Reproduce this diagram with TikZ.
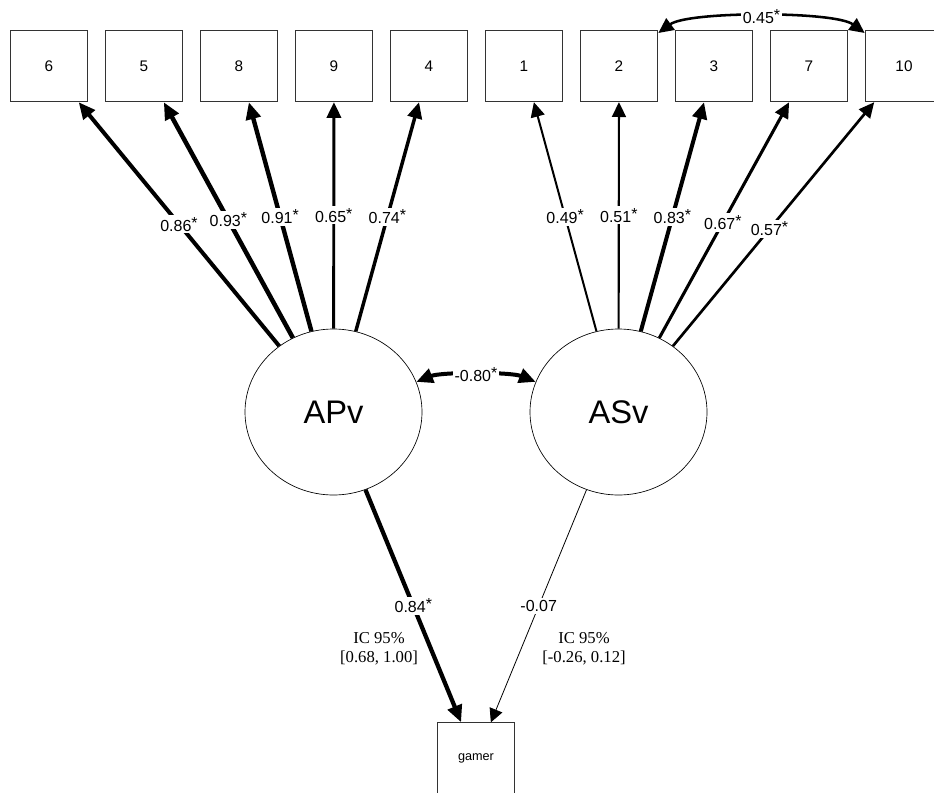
\documentclass[tikz,border=0pt]{standalone}
\usepackage{fontspec}
\setmainfont{Liberation Sans}
\newfontfamily\serifIC{Liberation Serif}
\usetikzlibrary{shapes.geometric,arrows.meta}

\newcommand\signif{\raisebox{0.35ex}{*}}

\tikzset{
  item/.style={draw=black!80, line width=0.7pt, minimum width=58.3pt, minimum height=53.6pt, inner sep=0pt, font=\fontsize{11.5}{13}\selectfont},
  latente/.style={draw, ellipse, line width=0.5pt, minimum width=132.75pt, minimum height=124.5pt, inner sep=0pt, font=\fontsize{24.5}{28}\selectfont},
  punta/.tip={Triangle[length=9.5pt 1, width=10pt 0.3]},
  carga/.style={-punta},
  cov/.style={punta-punta},
  coef/.style={fill=white, inner sep=1.5pt, font=\fontsize{12}{14}\selectfont},
  ic/.style={align=center, font=\serifIC\fontsize{12.5}{14.25}\selectfont},
}

\begin{document}
\begin{tikzpicture}[x=0.75pt, y=0.75pt] % 1 unidad = 1 pixel
\useasboundingbox (0,0) rectangle (934,-792);
% Items observados
\node[item] (i6) at (49,-66) {6};
\node[item] (i5) at (144,-66) {5};
\node[item] (i8) at (239,-66) {8};
\node[item] (i9) at (334,-66) {9};
\node[item] (i4) at (429,-66) {4};
\node[item] (i1) at (524,-66) {1};
\node[item] (i2) at (619,-66) {2};
\node[item] (i3) at (714,-66) {3};
\node[item] (i7) at (809,-66) {7};
\node[item] (i10) at (904,-66) {10};
% Factores latentes
\node[latente] (APv) at (333.5,-412) {APv};
\node[latente] (ASv) at (618.5,-412) {ASv};
% Variable criterio
\node[item, font=\fontsize{9.5}{11}\selectfont] (gamer) at (476,-758.5) {gamer};

% Cargas de APv
\draw[carga, line width=3pt] (APv) -- (i6) node[coef, midway] {0.86\signif};
\draw[carga, line width=3.4pt] (APv) -- (i5) node[coef, midway] {0.93\signif};
\draw[carga, line width=3.3pt] (APv) -- (i8) node[coef, midway] {0.91\signif};
\draw[carga, line width=2.2pt] (APv) -- (i9) node[coef, midway] {0.65\signif};
\draw[carga, line width=2.6pt] (APv) -- (i4) node[coef, midway] {0.74\signif};
% Cargas de ASv
\draw[carga, line width=1.5pt] (ASv) -- (i1) node[coef, midway] {0.49\signif};
\draw[carga, line width=1.6pt] (ASv) -- (i2) node[coef, midway] {0.51\signif};
\draw[carga, line width=3pt] (ASv) -- (i3) node[coef, midway] {0.83\signif};
\draw[carga, line width=2.3pt] (ASv) -- (i7) node[coef, pos=0.49] {0.67\signif};
\draw[carga, line width=2pt] (ASv) -- (i10) node[coef, pos=0.48] {0.57\signif};

% Covarianzas
\draw[cov, line width=1.9pt] (i2.40) .. controls +(30,22) and +(-30,22) .. (i10.140) node[coef, midway] {0.45\signif};
\draw[cov, line width=3pt] (APv.20) .. controls +(25,10) and +(-25,10) .. (ASv.160) node[coef, midway] {-0.80\signif};

% Regresiones sobre gamer
\draw[carga, line width=3.2pt] (APv) -- (gamer) node[coef, midway] {0.84\signif};
\draw[carga, line width=0.6pt] (ASv) -- (gamer) node[coef, midway] {-0.07};
\node[ic] (ic1) at (379,-649) {IC 95\%\\{[0.68, 1.00]}};
\node[ic] (ic2) at (584,-649) {IC 95\%\\{[-0.26, 0.12]}};
\end{tikzpicture}
\end{document}
